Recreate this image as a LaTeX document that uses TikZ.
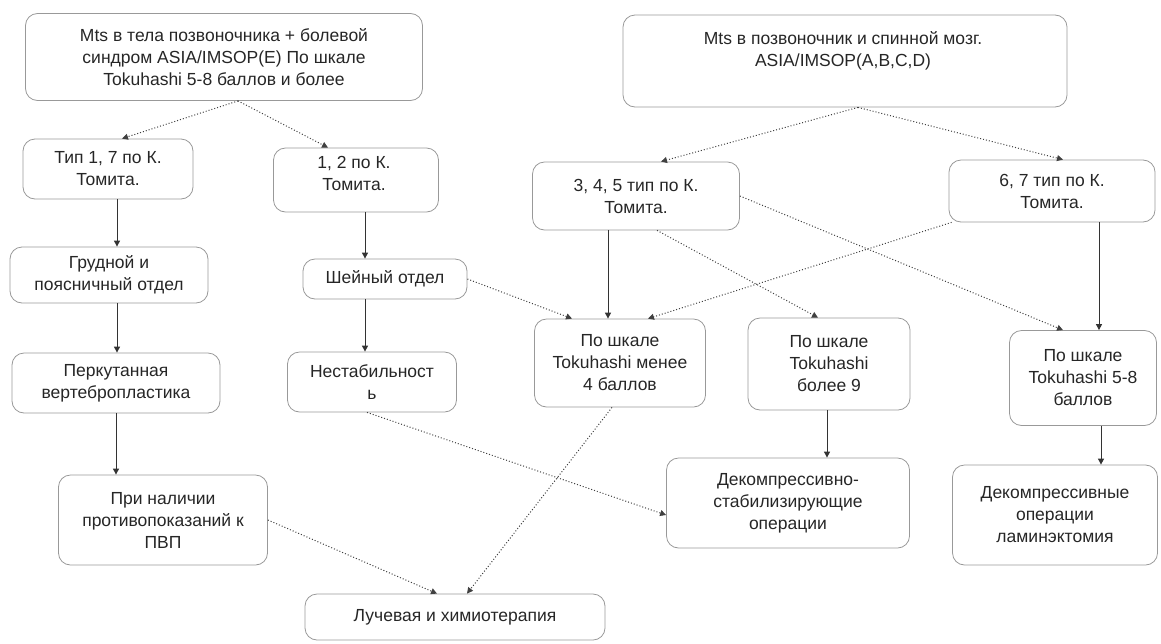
\documentclass[tikz,border=0pt]{standalone}
\usepackage{fontspec}
\setmainfont{Liberation Sans}
\usetikzlibrary{arrows.meta}
\tikzset{
  box/.style={draw=black!40, line width=0.8pt, rounded corners=12pt, align=center, inner sep=0pt, font=\fontsize{17.5}{22}\selectfont, text=black!85},
  txt/.style={align=center, inner sep=0pt, font=\fontsize{17.5}{22}\selectfont, text=black!85},
  dotarrow/.style={draw=black!75, line width=1pt, dotted, -{Triangle[length=6pt,width=6pt]}},
  solarrow/.style={draw=black!80, line width=1pt, -{Triangle[length=6pt,width=6pt]}},
}
\begin{document}
\begin{tikzpicture}[x=1pt,y=-1pt]
\useasboundingbox (0,0) rectangle (1161,643);
% boxes
\node[box, minimum width=397pt, minimum height=87pt] (A) at (224,57) {Mts в тела позвоночника + болевой\\синдром ASIA/IMSOP(E) По шкале\\Tokuhashi 5-8 баллов и более};
\node[box, minimum width=444pt, minimum height=92pt] (B) at (845,61) {};
\node[txt] (Btext) at (843,51) {Mts в позвоночник и спинной мозг.\\ASIA/IMSOP(A,B,C,D)};
\node[box, minimum width=170pt, minimum height=60pt] (C) at (108,169) {Тип 1, 7 по К.\\Томита.};
\node[box, minimum width=165pt, minimum height=64pt] (D) at (356,180) {};
\node[txt] (Dtext) at (354,173) {1, 2 по К.\\Томита.};
\node[box, minimum width=207pt, minimum height=68pt] (E) at (636,196) {3, 4, 5 тип по К.\\Томита.};
\node[box, minimum width=206pt, minimum height=62pt] (F) at (1052,191) {6, 7 тип по К.\\Томита.};
\node[box, minimum width=198pt, minimum height=56pt] (G) at (109,275) {Грудной и\\поясничный отдел};
\node[box, minimum width=164pt, minimum height=40pt] (H) at (385,279) {Шейный отдел};
\node[box, minimum width=208pt, minimum height=60pt] (I) at (116,383) {Перкутанная\\вертебропластика};
\node[box, minimum width=169pt, minimum height=60pt] (J) at (372,382) {Нестабильност\\ь};
\node[box, minimum width=209pt, minimum height=90pt] (K) at (163,520) {При наличии\\противопоказаний к\\ПВП};
\node[box, minimum width=300pt, minimum height=46pt] (L) at (455,617) {Лучевая и химиотерапия};
\node[box, minimum width=171pt, minimum height=88pt] (M) at (620,363) {По шкале\\Tokuhashi менее\\4 баллов};
\node[box, minimum width=162pt, minimum height=92pt] (N) at (829,364) {По шкале\\Tokuhashi\\более 9};
\node[box, minimum width=147pt, minimum height=95pt] (O) at (1083,378) {По шкале\\Tokuhashi 5-8\\баллов};
\node[box, minimum width=243pt, minimum height=90pt] (P) at (788,503) {Декомпрессивно-\\стабилизирующие\\операции};
\node[box, minimum width=205pt, minimum height=100pt] (Q) at (1055,515) {Декомпрессивные\\операции\\ламинэктомия};
% connectors
\draw[dotarrow] ([xshift=14pt]A.south) -- ([xshift=14pt]C.north);
\draw[dotarrow] ([xshift=14pt]A.south) -- ([xshift=-28pt]D.north);
\draw[dotarrow] ([xshift=13pt]B.south) -- ([xshift=25pt]E.north);
\draw[dotarrow] ([xshift=13pt]B.south) -- ([xshift=11pt]F.north);
\draw[solarrow] ([xshift=9pt]C.south) -- ([xshift=9pt]C.south |- G.north);
\draw[solarrow] ([xshift=8pt]G.south) -- ([xshift=8pt]G.south |- I.north);
\draw[solarrow] (I.south) -- (I.south |- K.north);
\draw[solarrow] ([xshift=9pt]D.south) -- ([xshift=9pt]D.south |- H.north);
\draw[solarrow] ([xshift=-20pt]H.south) -- ([xshift=-20pt]H.south |- J.north);
\draw[dotarrow] (K.east) -- ([xshift=-18pt]L.north);
\draw[dotarrow] ([xshift=-5pt]J.south) -- ([yshift=-12pt]P.west);
\draw[dotarrow] (H.east) -- ([xshift=-48pt]M.north);
\draw[solarrow] ([xshift=-28pt]E.south) -- ([xshift=-28pt]E.south |- M.north);
\draw[dotarrow] ([xshift=3pt]F.south west) -- ([xshift=28pt]M.north);
\draw[dotarrow] ([xshift=21pt]E.south) -- ([xshift=-11pt]N.north);
\draw[dotarrow] (E.east) -- ([xshift=-20pt]O.north);
\draw[solarrow] ([xshift=47pt]F.south) -- ([xshift=47pt]F.south |- O.north);
\draw[dotarrow] ([xshift=-8pt]M.south) -- ([xshift=12pt]L.north);
\draw[solarrow] ([xshift=-2pt]N.south) -- ([xshift=-2pt]N.south |- P.north);
\draw[solarrow] ([xshift=18pt]O.south) -- ([xshift=18pt]O.south |- Q.north);
\end{tikzpicture}
\end{document}
